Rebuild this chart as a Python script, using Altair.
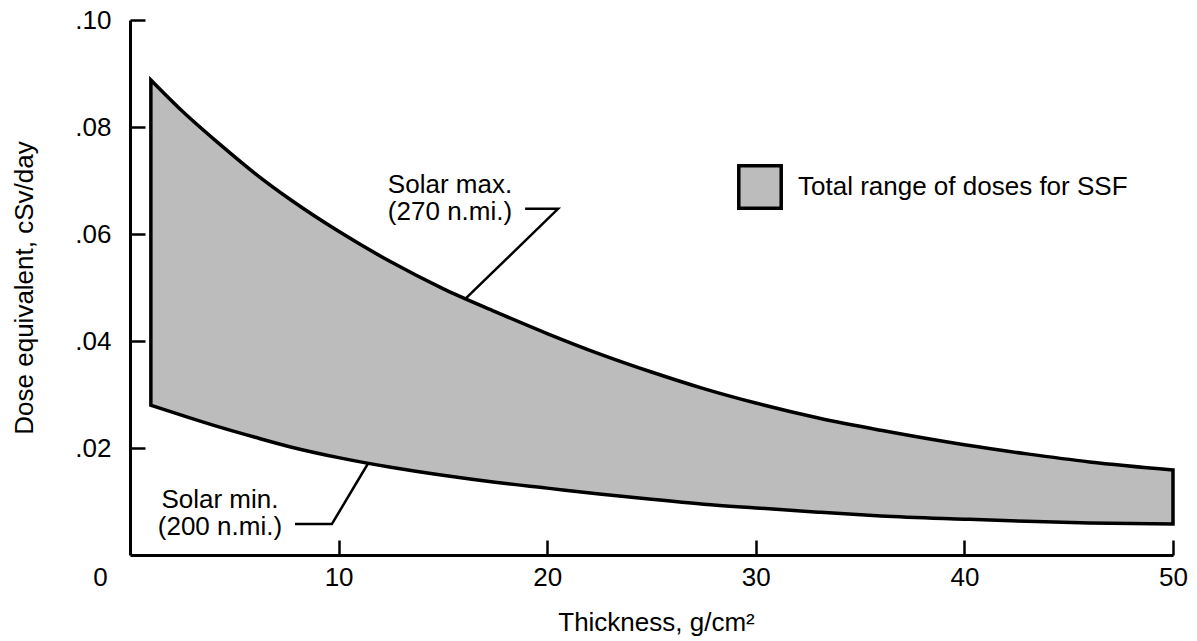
import altair as alt
import pandas as pd

# Shielding thickness (g/cm^2) and daily dose equivalent (cSv/day)
thickness = [1, 2.5, 4.3, 6, 7.7, 10, 12.5, 15, 17.5, 20, 22.5, 25, 27.5, 30, 33, 36, 40, 43, 46, 50]
solar_max = [0.0888, 0.0830, 0.0768, 0.0713, 0.0664, 0.0605, 0.0548, 0.0498, 0.0455, 0.0414,
             0.0376, 0.0342, 0.0311, 0.0284, 0.0256, 0.0233, 0.0206, 0.0189, 0.0174, 0.0159]
solar_min = [0.0280, 0.0261, 0.0239, 0.0220, 0.0202, 0.0182, 0.0164, 0.0149, 0.0136, 0.0125,
             0.0114, 0.0104, 0.0095, 0.0088, 0.0080, 0.0073, 0.0067, 0.0063, 0.0060, 0.0058]
band_name = "Total range of doses for SSF"

# Leader lines from the annotations to the curves
leader_group = ["max", "max", "max", "min", "min", "min"]
leader_order = [0, 1, 2, 0, 1, 2]
leader_x = [18.94, 20.52, 16.11, 7.91, 9.68, 11.41]
leader_y = [0.0647, 0.0647, 0.0480, 0.0058, 0.0058, 0.0171]

# Annotation text
note_text = ["Solar max.", "(270 n.mi.)", "Solar min.", "(200 n.mi.)"]
note_x = [15.34, 15.34, 4.31, 4.31]
note_y = [0.0677, 0.0626, 0.0088, 0.0037]

x_ticks = [10, 20, 30, 40, 50]
x_labels = [0, 10, 20, 30, 40, 50]
y_ticks = [0.02, 0.04, 0.06, 0.08, 0.10]

FONT = "Liberation Sans"
FS = 26
W, H = 1043, 535

band = pd.DataFrame({"t": thickness, "hi": solar_max, "lo": solar_min, "series": band_name})
leaders = pd.DataFrame({"lx": leader_x, "ly": leader_y, "grp": leader_group, "ord": leader_order})
notes = pd.DataFrame({"nx": note_x, "ny": note_y, "txt": note_text})

x_scale = alt.Scale(domain=[0, 50], nice=False, zero=False)
y_scale = alt.Scale(domain=[0, 0.10], nice=False, zero=False)

# Shaded band between solar-min and solar-max curves; this layer owns the labelled axes
area = alt.Chart(band).mark_area(
    stroke="black", strokeWidth=3.5, strokeJoin="miter", interpolate="monotone"
).encode(
    x=alt.X("t:Q", scale=x_scale, axis=alt.Axis(
        orient="bottom", values=x_labels, ticks=False, tickSize=0, grid=False,
        domain=True, domainColor="black", domainWidth=3,
        labelFont=FONT, labelFontSize=FS, labelColor="black", labelPadding=9,
        labelFlush=False,
        labelOffset={"condition": {"test": "datum.value === 0", "value": -30}, "value": 0},
        title="Thickness, g/cm²", titleFont=FONT, titleFontSize=FS, titleFontWeight="normal",
        titleColor="black", titleX=526, titleY=75, titleBaseline="alphabetic", titleAlign="center",
    )),
    y=alt.Y("hi:Q", scale=y_scale, axis=alt.Axis(
        orient="left", values=y_ticks, ticks=False, tickSize=0, grid=False,
        domain=True, domainColor="black", domainWidth=3,
        labelExpr="substring(format(datum.value, '.2f'), 1)",
        labelFont=FONT, labelFontSize=FS, labelColor="black", labelPadding=19,
        title="Dose equivalent, cSv/day", titleFont=FONT, titleFontSize=FS,
        titleFontWeight="normal", titleColor="black", titleAngle=270,
        titleX=-98, titleY=H / 2, titleBaseline="alphabetic", titleAlign="center",
    )),
    y2="lo:Q",
    fill=alt.Fill("series:N", scale=alt.Scale(range=["#bcbcbc"]), legend=alt.Legend(
        orient="none", legendX=607, legendY=144, title=None, padding=0,
        symbolType="square", symbolSize=1800, symbolStrokeColor="black",
        symbolStrokeWidth=3.5, symbolOpacity=1,
        labelFont=FONT, labelFontSize=FS, labelColor="black", labelOffset=15,
        labelLimit=600,
    )),
)

# Leader lines; this layer also carries the inward-pointing tick marks
lines = alt.Chart(leaders).mark_line(color="black", strokeWidth=2.5).encode(
    x=alt.X("lx:Q", scale=x_scale, axis=alt.Axis(
        orient="bottom", offset=-15, values=x_ticks, labels=False, domain=False,
        ticks=True, tickSize=15, tickWidth=2.5, tickColor="black", grid=False, title=None,
    )),
    y=alt.Y("ly:Q", scale=y_scale, axis=alt.Axis(
        orient="left", offset=-15, values=y_ticks, labels=False, domain=False,
        ticks=True, tickSize=15, tickWidth=2.5, tickColor="black", grid=False, title=None,
    )),
    detail="grp:N",
    order="ord:O",
)

text = alt.Chart(notes).mark_text(
    font=FONT, fontSize=FS, color="black", align="center", baseline="alphabetic"
).encode(
    x=alt.X("nx:Q", scale=x_scale, axis=None),
    y=alt.Y("ny:Q", scale=y_scale, axis=None),
    text="txt:N",
)

chart = alt.layer(area, lines, text).resolve_axis(
    x="independent", y="independent"
).properties(
    width=W, height=H,
    autosize=alt.AutoSizeParams(type="none"),
    padding={"left": 130, "top": 20, "right": 24, "bottom": 86},
    background="white",
).configure_view(stroke=None)

chart.save("out.html", embed_options={"renderer": "svg", "actions": False})
